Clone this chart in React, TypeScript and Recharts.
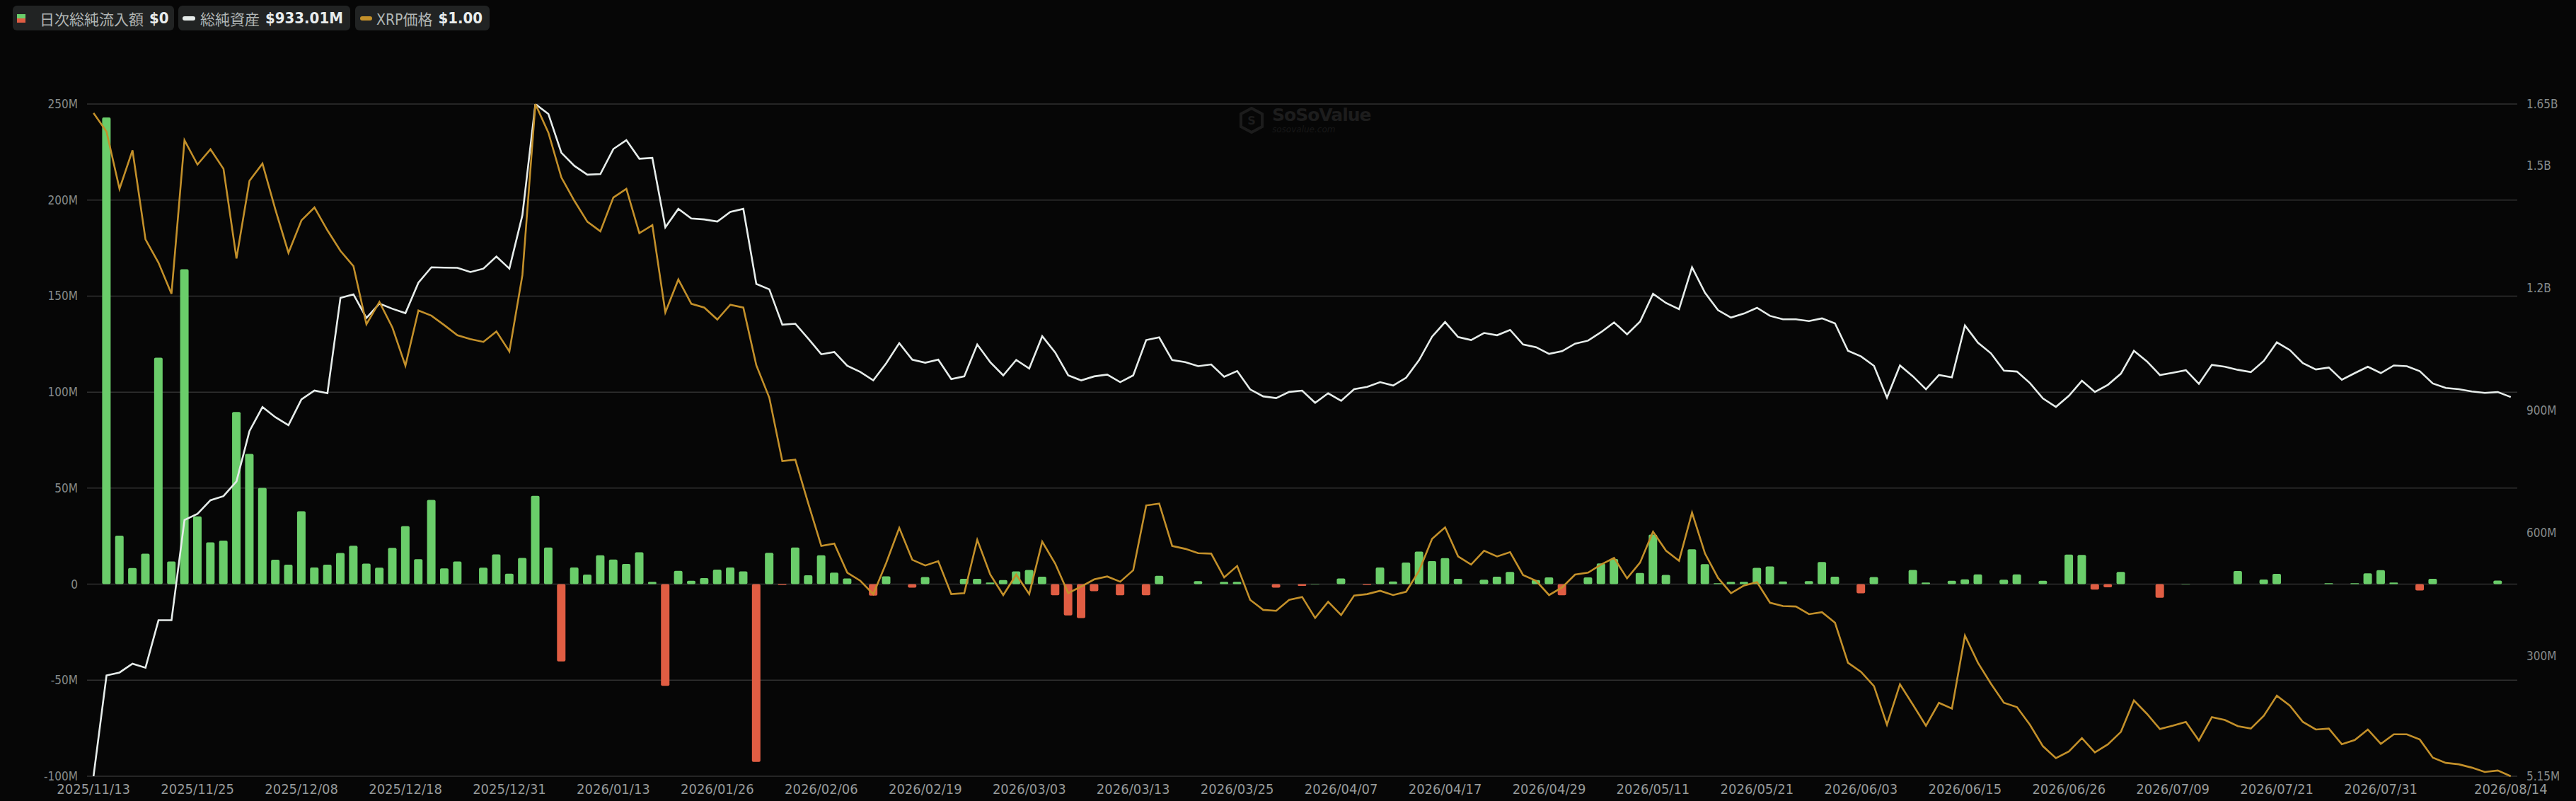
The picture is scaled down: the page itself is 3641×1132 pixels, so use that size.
import { ComposedChart, Bar, Line, XAxis, YAxis, CartesianGrid, Cell } from "recharts";

// trading days shown on the category axis, by month
const tradingDays: Array<[string, number[]]> = [
  ["2025/11", [13, 14, 17, 18, 19, 20, 21, 24, 25, 26, 28]],
  ["2025/12", [1, 2, 3, 4, 5, 8, 9, 10, 11, 12, 15, 16, 17, 18, 19, 22, 23, 24, 26, 29, 30, 31]],
  ["2026/01", [2, 5, 6, 7, 8, 9, 12, 13, 14, 15, 16, 20, 21, 22, 23, 26, 27, 28, 29]],
  ["2026/02", [2, 3, 4, 5, 6, 9, 10, 11, 12, 13, 17, 18, 19, 20, 23, 24, 25, 26, 27]],
  ["2026/03", [2, 3, 4, 5, 6, 9, 10, 11, 12, 13, 16, 17, 18, 19, 20, 23, 24, 25, 26, 27, 30, 31]],
  ["2026/04", [1, 2, 6, 7, 8, 9, 10, 13, 14, 15, 16, 17, 20, 21, 22, 23, 24, 27, 28, 29, 30]],
  ["2026/05", [1, 4, 5, 6, 7, 8, 11, 12, 13, 14, 15, 18, 19, 20, 21, 22, 26, 27, 28, 29]],
  ["2026/06", [1, 2, 3, 4, 5, 8, 9, 10, 11, 12, 15, 16, 17, 18, 22, 23, 24, 25, 26, 29, 30]],
  ["2026/07", [1, 2, 6, 7, 8, 9, 10, 13, 14, 15, 16, 17, 20, 21, 22, 23, 24, 27, 28, 29, 30, 31]],
  ["2026/08", [3, 4, 5, 6, 7, 10, 11, 12, 13, 14]],
];

const tickLabels = [
  "2025/11/13", "2025/11/25", "2025/12/08", "2025/12/18", "2025/12/31", "2026/01/13",
  "2026/01/26", "2026/02/06", "2026/02/19", "2026/03/03", "2026/03/13", "2026/03/25",
  "2026/04/07", "2026/04/17", "2026/04/29", "2026/05/11", "2026/05/21", "2026/06/03",
  "2026/06/15", "2026/06/26", "2026/07/09", "2026/07/21", "2026/07/31", "2026/08/14",
];

// daily net inflow, $M
const netInflow = [
  0, 243, 25.3, 8.4, 15.9, 117.9, 11.8, 164, 35.3, 21.8,
  22.7, 89.6, 67.8, 50.1, 12.7, 10.2, 38, 8.7, 10.2, 16.2,
  20, 10.7, 8.6, 18.9, 30.2, 13, 43.9, 8.2, 11.8, 0,
  8.6, 15.5, 5.5, 13.7, 46, 19.1, -40.2, 8.7, 5, 15,
  12.8, 10.5, 16.6, 1.2, -52.9, 6.9, 1.8, 3.2, 7.6, 8.7,
  6.7, -92.5, 16.3, -0.4, 19.1, 4.6, 15, 6, 3, 0,
  -6, 4.1, 0, -1.8, 3.7, 0, 0, 2.8, 2.8, 0.9,
  2.1, 6.7, 7.4, 3.9, -5.8, -16.3, -17.7, -3.7, 0, -5.8,
  0, -5.8, 4.4, 0, 0, 1.6, 0, 1.2, 1.2, 0,
  0, -1.8, 0, -0.9, 0.2, 0, 3, 0, -0.4, 8.7,
  1.4, 11.3, 17, 12, 13.6, 2.8, 0, 2.3, 3.9, 6.4,
  0, 2.1, 3.5, -5.8, 0, 3.5, 10.8, 13.1, 0, 5.8,
  25.8, 4.8, 0, 18.2, 10.4, 0.5, 1.2, 1.2, 8.5, 9.2,
  1.4, 0, 1.6, 11.5, 3.9, 0, -4.8, 3.7, 0, 0,
  7.4, 0.9, 0, 1.8, 2.5, 5.1, 0, 2.3, 5.1, 0,
  1.8, 0, 15.4, 15.2, -2.8, -1.6, 6.4, 0, 0, -7.1,
  0, 0.2, 0, 0, 0, 6.8, 0, 2.4, 5.4, 0,
  0, 0, 0.5, 0, 0.5, 5.6, 7.3, 0.9, 0, -3.3,
  2.8, 0, 0, 0, 0, 1.9, 0,
];

// total net assets, $M
const totalAssets = [
  5.15, 251.9, 258.9, 280.6, 270.7, 386.8, 386.8, 632.1, 647.1, 680.5,
  690.4, 726.6, 849.7, 908.4, 883.5, 864.3, 927.2, 948.8, 942.2, 1175.4,
  1184.3, 1126.5, 1161.7, 1149, 1138.2, 1213, 1250.5, 1249.6, 1249.1, 1238.8,
  1247.2, 1276.9, 1247.2, 1377.9, 1650, 1625.6, 1530.7, 1498.7, 1477.1, 1478.5,
  1540, 1561.6, 1516.1, 1518, 1348.3, 1393.4, 1369.9, 1367.5, 1362.4, 1385.9,
  1393.4, 1209.7, 1196.5, 1110, 1112.4, 1075.7, 1037.6, 1043.3, 1009.4, 994.4,
  973.7, 1016, 1064.9, 1024.5, 1017, 1024.5, 977, 983.6, 1061.6, 1018.4,
  986, 1023.6, 1002.9, 1081.8, 1041.9, 986, 973.7, 983.6, 987.8, 969.5,
  986, 1072.4, 1079, 1023.6, 1018.4, 1008.5, 1012.7, 982.7, 996.8, 951.7,
  934.7, 930.5, 945.5, 948.8, 918.8, 942.2, 923.9, 952.1, 957.8, 969.5,
  961.1, 980.3, 1023.6, 1080.9, 1116.6, 1079.9, 1072.4, 1089.8, 1084.2, 1097.3,
  1061.6, 1055, 1038.6, 1045.2, 1063.5, 1071, 1091.7, 1115.7, 1086.5, 1117.6,
  1185.7, 1163.1, 1148.1, 1250.5, 1188, 1145.7, 1127.4, 1137.3, 1151.4, 1131.6,
  1123.2, 1123.2, 1119, 1125.6, 1113.3, 1046.1, 1032.5, 1009.4, 931.4, 1010.3,
  983.6, 952.1, 986.9, 981.3, 1108.1, 1065.9, 1040, 997.7, 995.3, 967.2,
  929.6, 908.9, 936.2, 972.8, 945.5, 962.9, 990.2, 1046.1, 1020.3, 986.9,
  992.5, 998.6, 965.3, 1011.8, 1007.1, 999.6, 994, 1021.7, 1066.8, 1048,
  1016, 1000.5, 1005.2, 975.2, 991.6, 1007.1, 991.6, 1010.3, 1008.5, 996.3,
  966.2, 955.4, 952.1, 946.5, 943.2, 945.1, 933.01,
];

// XRP price, $
const xrpPrice = [
  2.391, 2.352, 2.232, 2.313, 2.126, 2.077, 2.012, 2.334, 2.283, 2.315,
  2.274, 2.086, 2.249, 2.285, 2.188, 2.098, 2.166, 2.193, 2.145, 2.102,
  2.07, 1.948, 1.995, 1.941, 1.861, 1.977, 1.966, 1.946, 1.925, 1.917,
  1.911, 1.933, 1.891, 2.051, 2.41, 2.35, 2.256, 2.207, 2.163, 2.143,
  2.214, 2.232, 2.139, 2.156, 1.973, 2.042, 1.991, 1.983, 1.958, 1.989,
  1.983, 1.862, 1.794, 1.661, 1.664, 1.572, 1.483, 1.488, 1.427, 1.41,
  1.382, 1.448, 1.521, 1.454, 1.442, 1.451, 1.382, 1.384, 1.496, 1.423,
  1.38, 1.423, 1.382, 1.492, 1.446, 1.384, 1.398, 1.413, 1.419, 1.408,
  1.432, 1.568, 1.572, 1.483, 1.477, 1.468, 1.467, 1.417, 1.441, 1.37,
  1.349, 1.347, 1.37, 1.376, 1.332, 1.366, 1.338, 1.379, 1.382, 1.389,
  1.38, 1.387, 1.431, 1.498, 1.522, 1.461, 1.444, 1.473, 1.461, 1.47,
  1.422, 1.41, 1.38, 1.396, 1.423, 1.427, 1.444, 1.458, 1.415, 1.448,
  1.513, 1.473, 1.452, 1.553, 1.467, 1.416, 1.384, 1.4, 1.407, 1.364,
  1.357, 1.356, 1.34, 1.344, 1.322, 1.238, 1.219, 1.189, 1.108, 1.193,
  1.15, 1.106, 1.154, 1.142, 1.295, 1.238, 1.194, 1.154, 1.145, 1.108,
  1.063, 1.038, 1.052, 1.08, 1.05, 1.067, 1.093, 1.159, 1.131, 1.099,
  1.106, 1.114, 1.075, 1.124, 1.118, 1.105, 1.1, 1.127, 1.169, 1.148,
  1.114, 1.098, 1.1, 1.067, 1.076, 1.098, 1.068, 1.088, 1.088, 1.077,
  1.039, 1.028, 1.025, 1.018, 1.009, 1.012, 1.0,
];

const leftTicks = [-100, -50, 0, 50, 100, 150, 200, 250];
const rightTicks = [5.15, 300, 600, 900, 1200, 1500, 1650];

const dates = tradingDays.flatMap(([ym, days]) =>
  days.map((d) => `${ym}/${String(d).padStart(2, "0")}`)
);

const data = dates.map((date, i) => ({
  date,
  flow: netInflow[i],
  assets: totalAssets[i],
  price: xrpPrice[i],
}));

const GREEN = "#6acd6a";
const RED = "#e05d43";
const WHITE = "#e6ecea";
const GOLD = "#c3902a";
const AXIS_FONT = "'DejaVu Sans Condensed', 'Liberation Sans Narrow', 'DejaVu Sans', sans-serif";
const LEGEND_FONT = "'DejaVu Sans Condensed', 'Noto Sans CJK JP', 'DejaVu Sans', sans-serif";

const labelSet = new Set(tickLabels);

const fmtLeft = (v: number) => (v === 0 ? "0" : `${v}M`);
const fmtRight = (v: number) => (v >= 1000 ? `${v / 1000}B` : `${v}M`);

function LegendBox({ left, width, icon, label, value }: any) {
  return (
    <div
      style={{
        position: "absolute",
        left,
        top: 8,
        width,
        height: 35,
        background: "#212323",
        borderRadius: 6,
        display: "flex",
        alignItems: "center",
        fontFamily: LEGEND_FONT,
        whiteSpace: "nowrap",
      }}
    >
      {icon}
      <span style={{ color: "#b0b5b4", fontSize: 21 }}>{label}</span>
      <span style={{ color: "#e8ecec", fontSize: 22, fontWeight: 700, marginLeft: 8 }}>{value}</span>
    </div>
  );
}

export default function App() {
  return (
    <div
      style={{
        position: "absolute",
        left: 0,
        top: 0,
        width: 3641,
        height: 1132,
        background: "#060606",
        overflow: "hidden",
      }}
    >
      <LegendBox
        left={18}
        width={228}
        label="日次総純流入額"
        value="$0"
        icon={
          <div style={{ marginLeft: 6, marginRight: 20, width: 12, height: 12 }}>
            <div style={{ height: 6, background: GREEN }} />
            <div style={{ height: 6, background: RED }} />
          </div>
        }
      />
      <LegendBox
        left={252}
        width={243}
        label="総純資産"
        value="$933.01M"
        icon={<div style={{ marginLeft: 6, marginRight: 7, width: 18, height: 6, borderRadius: 3, background: WHITE }} />}
      />
      <LegendBox
        left={502}
        width={190}
        label="XRP価格"
        value="$1.00"
        icon={<div style={{ marginLeft: 7, marginRight: 6, width: 17, height: 6, borderRadius: 3, background: GOLD }} />}
      />

      {/* watermark */}
      <div style={{ position: "absolute", left: 1752, top: 150, display: "flex", alignItems: "center", gap: 12 }}>
        <svg width="34" height="38" viewBox="0 0 34 38">
          <polygon points="17,2 32,10 32,28 17,36 2,28 2,10" fill="none" stroke="#1c1c1c" strokeWidth="4" />
          <text x="17" y="25" textAnchor="middle" fontSize="16" fontWeight="700" fill="#1c1c1c" fontFamily="DejaVu Sans">S</text>
        </svg>
        <div style={{ fontFamily: "'DejaVu Sans', sans-serif", lineHeight: 1 }}>
          <div style={{ color: "#1d1d1d", fontSize: 25, fontWeight: 700, letterSpacing: -1 }}>SoSoValue</div>
          <div style={{ color: "#181818", fontSize: 12, fontStyle: "italic", marginTop: 2 }}>sosovalue.com</div>
        </div>
      </div>

      <ComposedChart
        width={3641}
        height={1132}
        data={data}
        margin={{ top: 147, right: 0, bottom: 0, left: 0 }}
        barCategoryGap={0}
        style={{ position: "absolute", left: 0, top: 0 }}
      >
        <CartesianGrid yAxisId="left" vertical={false} stroke="#303030" strokeWidth={1.5} />
        <XAxis
          dataKey="date"
          interval={0}
          height={35}
          axisLine={false}
          tickLine={false}
          tickSize={0}
          tickMargin={11}
          tickFormatter={(d: string) => (labelSet.has(d) ? d : "")}
          tick={{ fill: "#969a9a", fontSize: 20, fontFamily: AXIS_FONT }}
        />
        <YAxis
          yAxisId="left"
          orientation="left"
          width={123}
          domain={[-100, 250]}
          ticks={leftTicks}
          allowDataOverflow
          axisLine={false}
          tickLine={false}
          tickSize={0}
          tickMargin={13}
          tickFormatter={fmtLeft}
          tick={{ fill: "#858a8a", fontSize: 17, fontFamily: AXIS_FONT }}
        />
        <YAxis
          yAxisId="right"
          orientation="right"
          width={83}
          domain={[5.15, 1650]}
          ticks={rightTicks}
          allowDataOverflow
          axisLine={false}
          tickLine={false}
          tickSize={0}
          tickMargin={13}
          tickFormatter={fmtRight}
          tick={{ fill: "#858a8a", fontSize: 17, fontFamily: AXIS_FONT }}
        />
        <YAxis yAxisId="price" hide domain={["dataMin", "dataMax"]} />
        <Bar yAxisId="left" dataKey="flow" barSize={12} radius={2} isAnimationActive={false}>
          {data.map((d) => (
            <Cell key={d.date} fill={d.flow >= 0 ? GREEN : RED} />
          ))}
        </Bar>
        <Line
          yAxisId="right"
          dataKey="assets"
          type="linear"
          stroke={WHITE}
          strokeWidth={2.6}
          dot={false}
          activeDot={false}
          isAnimationActive={false}
        />
        <Line
          yAxisId="price"
          dataKey="price"
          type="linear"
          stroke={GOLD}
          strokeWidth={2.6}
          dot={false}
          activeDot={false}
          isAnimationActive={false}
        />
      </ComposedChart>
    </div>
  );
}
